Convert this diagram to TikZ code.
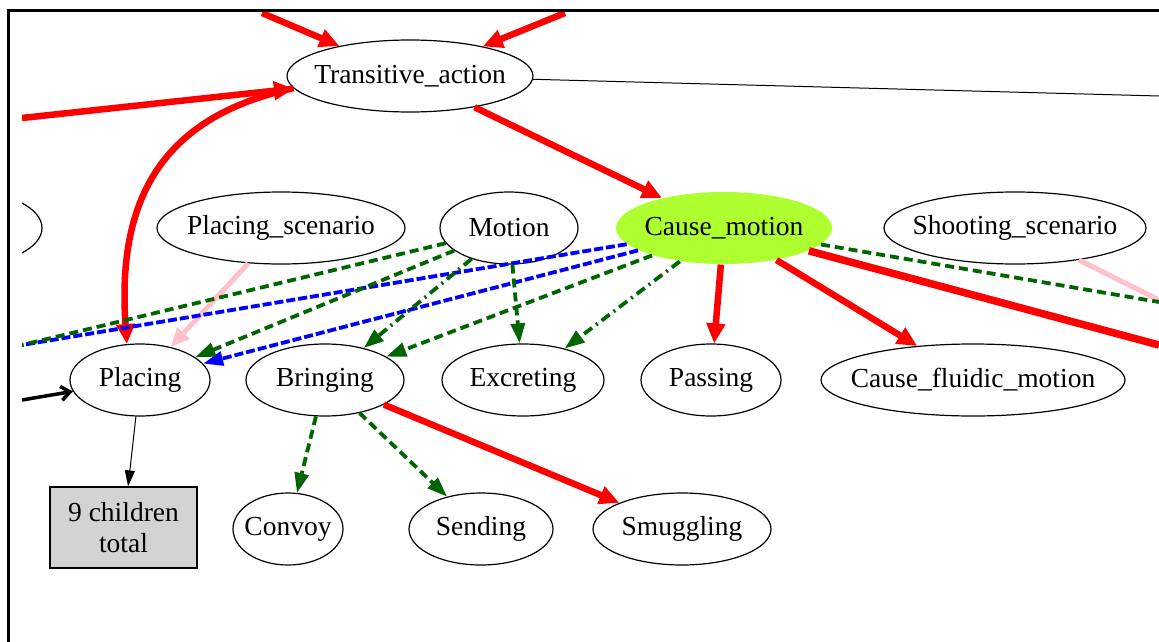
\documentclass[tikz,border=0pt]{standalone}
\usepackage{fontspec}
\setmainfont{Liberation Serif}
\usetikzlibrary{shapes.geometric,arrows.meta}

\definecolor{framegreen}{HTML}{006400}
\definecolor{hilite}{HTML}{ADFF2F}
\definecolor{boxgray}{HTML}{D3D3D3}
\definecolor{pinkline}{HTML}{FFC0CB}

\begin{document}
\begin{tikzpicture}[x=1pt,y=-1pt,
    fr/.style={ellipse,draw,line width=1.2pt,inner xsep=-15pt,inner ysep=0pt,minimum height=72pt,
      font=\fontsize{27.5}{31}\selectfont},
    inherits/.style={red,line width=6.5pt,-{Triangle[length=20pt,width=18pt]}},
    persp/.style={pinkline,line width=5pt,-{Triangle[length=19pt,width=16pt]}},
    uses/.style={framegreen,line width=3.8pt,dash pattern=on 9pt off 5pt,
      -{Triangle[length=20pt,width=14pt]}},
    usesdot/.style={framegreen,line width=3.8pt,dash pattern=on 10pt off 5pt on 2pt off 5pt,
      -{Triangle[length=20pt,width=14pt]}},
    subfr/.style={blue,line width=3.8pt,dash pattern=on 9pt off 3pt,
      -{Triangle[length=20pt,width=14pt]}}]
  \useasboundingbox (0,0) rectangle (1159,642);

  \begin{scope}
    \clip (22,13) rectangle (1159,642);

    % Frames
    \node[fr,minimum width=246pt] (trans) at (410,76) {Transitive\_action};
    \node[fr,minimum width=144pt] (leftcut) at (-30,228) {};
    \node[fr,minimum width=248pt] (placscen) at (281,228) {Placing\_scenario};
    \node[fr,minimum width=138pt] (motion) at (509,228) {Motion};
    \node[fr,minimum width=216pt,draw=none,fill=hilite] (causemot) at (724,228) {Cause\_motion};
    \node[fr,minimum width=262pt] (shootscen) at (1015,228) {Shooting\_scenario};

    \node[fr,minimum width=140pt] (placing) at (140,380) {Placing};
    \node[fr,minimum width=158pt] (bringing) at (325,380) {Bringing};
    \node[fr,minimum width=162pt] (excreting) at (523,380) {Excreting};
    \node[fr,minimum width=140pt] (passing) at (711,380) {Passing};
    \node[fr,minimum width=304pt] (causefluid) at (973,380) {Cause\_fluidic\_motion};

    \node[draw,line width=1.2pt,fill=boxgray,minimum width=147pt,minimum height=81pt,
      align=center,font=\fontsize{27.5}{31}\selectfont] (kids) at (123.5,527.5) {9 children\\total};
    \node[fr,minimum width=110pt] (convoy) at (288,529) {Convoy};
    \node[fr,minimum width=144pt] (sending) at (481,529) {Sending};
    \node[fr,minimum width=178pt] (smuggling) at (682,529) {Smuggling};

    % Loose ends outside the view
    \coordinate (inTL) at (262,13);
    \coordinate (inTR) at (565,13);
    \coordinate (inL) at (22,118);
    \coordinate (outR) at (1159,96);
    \coordinate (outL) at (22,345);
    \coordinate (inLow) at (22,400);
    \coordinate (outRg) at (1159,302);
    \coordinate (outRr) at (1159,345);
    \coordinate (outRp) at (1159,300);

    % Around Transitive_action
    \draw[inherits] (inTL) -- (trans);
    \draw[inherits] (inTR) -- (trans);
    \draw[inherits] (inL) -- (trans);
    \draw[line width=1pt] (trans) -- (outR);
    \draw[inherits] (trans) -- (causemot);
    \draw[inherits] (trans.186) .. controls (170,115) and (116,190) .. (placing.110);

    % Scenarios
    \draw[persp] (placscen) -- (placing);
    \draw[pinkline,line width=5pt] (shootscen) -- (outRp);

    % Long dashed lines to the left
    \draw[subfr,-] (causemot) -- (outL);
    \draw[uses,-] (motion) -- (outL);
    \draw[subfr] (causemot) -- (placing);
    \draw[uses] (motion) -- (placing);

    % Motion and Cause_motion
    \draw[usesdot] (motion) -- (bringing);
    \draw[uses] (causemot) -- (bringing);
    \draw[uses] (motion) -- (excreting);
    \draw[usesdot] (causemot) -- (excreting);
    \draw[inherits] (causemot) -- (passing);
    \draw[inherits] (causemot) -- (causefluid);
    \draw[red,line width=7.5pt] (causemot) -- (outRr);
    \draw[uses,-] (causemot) -- (outRg);

    % Lower row
    \draw[line width=3.5pt,-{Straight Barb[length=9pt,width=14pt]}] (inLow) -- (placing);
    \draw[line width=1pt,-{Triangle[length=16pt,width=10pt]}] (placing) -- (kids);
    \draw[uses] (bringing) -- (convoy);
    \draw[uses] (bringing) -- (sending);
    \draw[inherits] (bringing) -- (smuggling);
  \end{scope}

  % Frame border
  \draw[line width=3pt] (8,642) -- (8,11) -- (1159,11);
\end{tikzpicture}
\end{document}
